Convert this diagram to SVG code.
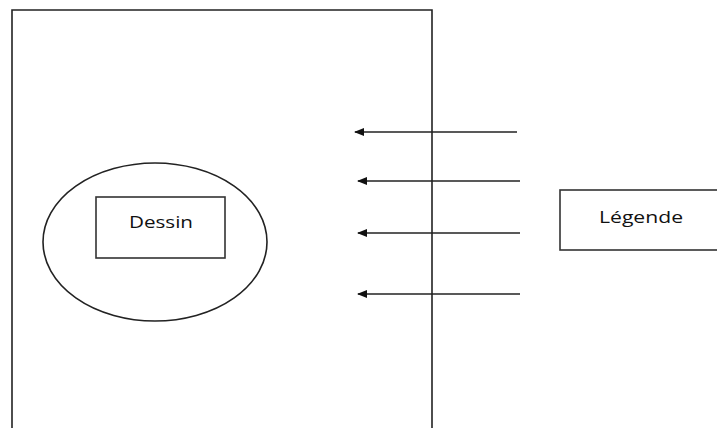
<svg xmlns="http://www.w3.org/2000/svg" width="717" height="428" viewBox="0 0 717 428">
  <style>
    .frame { fill: none; stroke: #222; stroke-width: 1.6; }
    .box { fill: #fff; stroke: #333; stroke-width: 1.6; }
    .label { font-family: "Open Sans", "DejaVu Sans", sans-serif; font-size: 16px; fill: #111; }
    .arrow { stroke: #222; stroke-width: 1.6; fill: none; marker-end: url(#head); }
  </style>
  <defs>
    <marker id="head" viewBox="0 0 10 8" refX="9" refY="4" markerWidth="10" markerHeight="8" markerUnits="userSpaceOnUse" orient="auto">
      <path d="M0,0 L10,4 L0,8 Z" fill="#111"/>
    </marker>
  </defs>
  <rect width="717" height="428" fill="#fff"/>

  <!-- page frame, open at the bottom -->
  <g id="page">
    <path class="frame" d="M12,430 L12,10 L432,10 L432,430"/>
  </g>

  <g id="drawing-area">
    <ellipse class="frame" cx="155" cy="242" rx="112" ry="79"/>
  </g>

  <g id="dessin">
    <rect class="box" x="96" y="197" width="129" height="61"/>
    <text class="label" x="161" y="228" text-anchor="middle" textLength="64" lengthAdjust="spacingAndGlyphs">Dessin</text>
  </g>

  <g id="legende">
    <rect class="box" x="560" y="190" width="160" height="60"/>
    <text class="label" x="641" y="223" text-anchor="middle" textLength="84" lengthAdjust="spacingAndGlyphs">Légende</text>
  </g>

  <g id="connectors">
    <line class="arrow" x1="517" y1="132" x2="355" y2="132"/>
    <line class="arrow" x1="520" y1="181" x2="358" y2="181"/>
    <line class="arrow" x1="520" y1="233" x2="358" y2="233"/>
    <line class="arrow" x1="520" y1="294" x2="358" y2="294"/>
  </g>
</svg>
